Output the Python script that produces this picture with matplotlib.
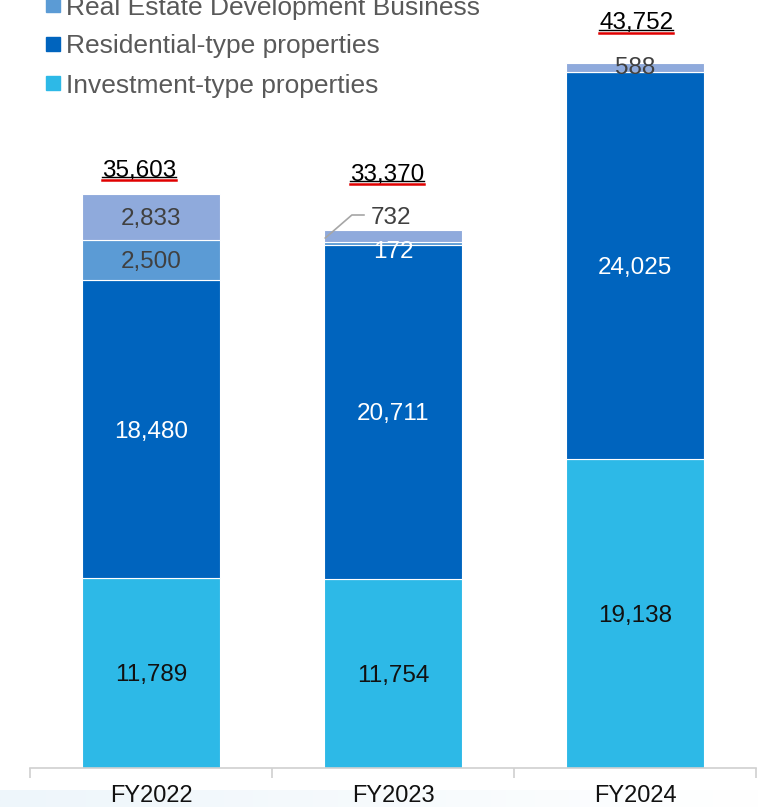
import numpy as np
import matplotlib.pyplot as plt
from matplotlib.patches import Rectangle
from matplotlib.lines import Line2D
from matplotlib.colors import LinearSegmentedColormap

plt.rcParams['font.family'] = ['Liberation Sans', 'DejaVu Sans']

years = ['FY2022', 'FY2023', 'FY2024']
investment = [11789, 11754, 19138]
residential = [18480, 20711, 24025]
real_estate_dev = [2500, 172, 0]
other = [2833, 732, 588]
totals = ['35,603', '33,370', '43,752']

legend_labels = ['Real Estate Development Business',
                 'Residential-type properties',
                 'Investment-type properties']

c_inv = '#2DB9E7'
c_res = '#0064BE'
c_red = '#5B9BD5'
c_oth = '#8FAADC'

W, H = 759, 807
PX = 0.01612  # pixels per unit on the value axis

fig = plt.figure(figsize=(W / 100, H / 100), dpi=100)
ax = fig.add_axes([30 / W, 39 / H, 726 / W, 768 / H])


def py(pix):
    # pixel row (from top) -> data value
    return (768 - pix) / PX


x = np.arange(len(years))
w = 0.57
series = [(investment, c_inv), (residential, c_res), (real_estate_dev, c_red), (other, c_oth)]
bottom = np.zeros(len(years))
for vals, col in series:
    ax.bar(x, vals, w, bottom=bottom, color=col, edgecolor='white', linewidth=0.8, zorder=2)
    bottom += np.array(vals)

ax.set_xlim(-0.5, 2.5)
ax.set_ylim(0, 768 / PX)
for s in ['top', 'right', 'left']:
    ax.spines[s].set_visible(False)
ax.spines['bottom'].set_color('#D0D0D0')
ax.spines['bottom'].set_linewidth(1.2)
ax.set_yticks([])
ax.set_xticks([-0.5, 0.5, 1.5, 2.5])
ax.set_xticklabels([])
ax.tick_params(axis='x', length=7, color='#D0D0D0', width=1.2, direction='out')
for i, yr in enumerate(years):
    ax.text(i, py(794), yr, ha='center', va='center_baseline', fontsize=17,
            color='#111111', clip_on=False)

fs = 17.5
vb = 'center_baseline'
for i in range(3):
    ax.text(i, investment[i] / 2, f'{investment[i]:,}', ha='center', va=vb,
            fontsize=fs, color='#111111')
    ax.text(i, investment[i] + residential[i] / 2, f'{residential[i]:,}', ha='center',
            va=vb, fontsize=fs, color='white')

base = np.array(investment) + np.array(residential)
ax.text(0, base[0] + real_estate_dev[0] / 2, f'{real_estate_dev[0]:,}', ha='center',
        va=vb, fontsize=fs, color='#404040')
ax.text(1, py(250), f'{real_estate_dev[1]:,}', ha='center', va=vb,
        fontsize=fs, color='white')

top_base = base + np.array(real_estate_dev)
ax.text(0, top_base[0] + other[0] / 2, f'{other[0]:,}', ha='center', va=vb,
        fontsize=fs, color='#404040')
ax.text(2, py(65), f'{other[2]:,}', ha='center', va=vb,
        fontsize=fs, color='#404040')

# leader line for the thin FY2023 segment
ax.plot([1 - w / 2 + 0.005, 1 - w / 2 + 0.115, 1 - w / 2 + 0.165],
        [py(238), py(215), py(215)], color='#A6A6A6', lw=1.2, zorder=3)
ax.text(1 - w / 2 + 0.275, py(215), f'{other[1]:,}', ha='center', va=vb,
        fontsize=fs, color='#404040')

# totals with underline and red squiggle
tot_y = [168, 172, 21]
tot_x = [-0.05, -0.025, 0.005]
texts = []
for i in range(3):
    t = ax.text(i + tot_x[i], py(tot_y[i]), totals[i], ha='center',
                va=vb, fontsize=fs, color='black')
    texts.append(t)

fig.canvas.draw()
r = fig.canvas.get_renderer()
for t in texts:
    bb = t.get_window_extent(r)
    yy = bb.y0 + 2
    fig.add_artist(Line2D([bb.x0 / W, bb.x1 / W], [yy / H, yy / H],
                          color='#E00000', lw=1.8))
    fig.add_artist(Line2D([bb.x0 / W, bb.x1 / W], [(yy + 2.3) / H, (yy + 2.3) / H],
                          color='black', lw=1.0))

# legend
leg_cols = [c_red, c_res, c_inv]
leg_y = [5, 44, 83]
for lab, col, yy in zip(legend_labels, leg_cols, leg_y):
    fig.add_artist(Rectangle((46 / W, (H - yy - 7) / H), 14 / W, 14 / H,
                             color=col, transform=fig.transFigure))
    fig.text(66 / W, (H - yy) / H, lab, ha='left', va='center_baseline',
             fontsize=19, color='#595959')

# faint blue band at the foot
grad = np.linspace(1, 0, 256).reshape(1, -1)
band = fig.add_axes([0, 0, 1, 17 / H], zorder=-1)
band.imshow(grad, aspect='auto', extent=[0, 1, 0, 1],
            cmap=LinearSegmentedColormap.from_list('b', ['#FFFFFF', '#EEF6FB']))
band.axis('off')

fig.savefig('out.png', dpi=100)
